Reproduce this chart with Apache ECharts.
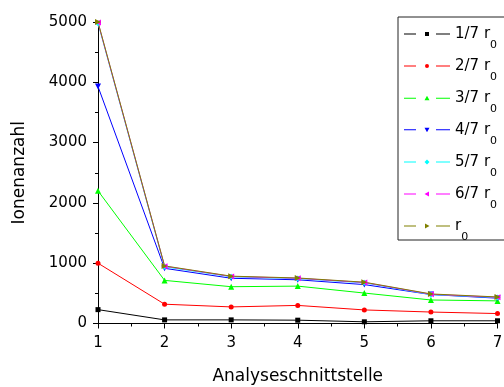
<!DOCTYPE html>
<html>
<head>
<meta charset="utf-8">
<script src="https://cdn.jsdelivr.net/npm/echarts@6/dist/echarts.min.js"></script>
<style>html,body{margin:0;padding:0;background:#fff}#c{width:504px;height:387px}</style>
</head>
<body>
<div id="c"></div>
<script>
const xValues = [1, 2, 3, 4, 5, 6, 7];
const seriesNames = ['1/7 r0', '2/7 r0', '3/7 r0', '4/7 r0', '5/7 r0', '6/7 r0', 'r0'];
const s1 = [230, 60, 60, 55, 28, 45, 45];
const s2 = [1000, 320, 275, 300, 225, 190, 165];
const s3 = [2200, 715, 610, 620, 505, 390, 375];
const s4 = [3930, 915, 750, 725, 645, 480, 420];
const s5 = [4980, 940, 775, 745, 675, 480, 430];
const s6 = [4990, 950, 780, 750, 680, 485, 435];
const s7 = [5000, 955, 785, 755, 685, 490, 440];
const yTicks = [0, 1000, 2000, 3000, 4000, 5000];

const allValues = [s1, s2, s3, s4, s5, s6, s7];
const colors = ['#000000', '#ff0000', '#00ff00', '#0000ff', '#00ffff', '#ff00ff', '#808000'];
const symbols = ['rect', 'circle', 'triangle', 'triangle', 'diamond', 'triangle', 'triangle'];
const rotates = [0, 0, 0, 180, 0, 90, -90];
const sizes = [5, 5, 6, 6, 6, 6, 6];

const L = 'M0 2.5H12V3.5H0Z M32 2.5H46V3.5H32Z ';
const markerPaths = [
  'M21 1H25V5H21Z',
  'M21 3A2 2 0 1 0 25 3A2 2 0 1 0 21 3Z',
  'M23 0.5L25.5 5H20.5Z',
  'M20.5 1H25.5L23 5.5Z',
  'M23 0.5L25.5 3L23 5.5L20.5 3Z',
  'M20.5 3L25 0.5V5.5Z',
  'M25.5 3L21 0.5V5.5Z'
];

const FONT = 'DejaVu Sans';
const series = allValues.map((vals, i) => ({
  name: seriesNames[i],
  type: 'line',
  data: xValues.map((x, j) => [x, vals[j]]),
  symbol: symbols[i],
  symbolRotate: rotates[i],
  symbolSize: sizes[i],
  color: colors[i],
  lineStyle: { width: 1, color: colors[i] },
  itemStyle: { color: colors[i] },
  animation: false
}));

const chart = echarts.init(document.getElementById('c'), null, { renderer: 'canvas' });
chart.setOption({
  animation: false,
  grid: { left: 98, right: 6.5, top: 22, bottom: 63.5, containLabel: false, outerBoundsMode: 'none' },
  xAxis: {
    type: 'value', min: 1, max: 7, interval: 1,
    name: 'Analyseschnittstelle', nameLocation: 'middle', nameGap: 45,
    nameTextStyle: { fontFamily: FONT, fontSize: 17, color: '#000' },
    axisLine: { show: true, onZero: false, lineStyle: { color: '#000', width: 1 } },
    axisTick: { show: true, inside: false, length: 5, lineStyle: { color: '#000' } },
    minorTick: { show: true, splitNumber: 2, length: 3, lineStyle: { color: '#000' } },
    splitLine: { show: false },
    axisLabel: { fontFamily: FONT, fontSize: 15, color: '#000', margin: 12 }
  },
  yAxis: {
    type: 'value', min: yTicks[0], max: yTicks[yTicks.length - 1], interval: 1000,
    name: 'Ionenanzahl', nameLocation: 'middle', nameGap: 70, nameRotate: 90,
    nameTextStyle: { fontFamily: FONT, fontSize: 17, color: '#000' },
    axisLine: { show: true, lineStyle: { color: '#000', width: 1 } },
    axisTick: { show: true, inside: false, length: 5, lineStyle: { color: '#000' } },
    minorTick: { show: true, splitNumber: 2, length: 3, lineStyle: { color: '#000' } },
    splitLine: { show: false },
    axisLabel: { fontFamily: FONT, fontSize: 15, color: '#000', margin: 11,
      formatter: function (v) { return String(v); } }
  },
  legend: {
    orient: 'vertical',
    left: 398, top: 17,
    padding: [9.5, 30, -2.5, 6],
    itemGap: 8,
    itemWidth: 46, itemHeight: 6,
    borderColor: '#222', borderWidth: 1,
    data: seriesNames.map((n, i) => ({
      name: n,
      icon: 'path://' + L + markerPaths[i],
      itemStyle: { color: colors[i], borderWidth: 0 }
    })),
    formatter: function (name) {
      return '{a|' + name.slice(0, -1) + '}{s|0}';
    },
    textStyle: {
      fontFamily: FONT, fontSize: 15, color: '#000',
      rich: {
        a: { fontFamily: FONT, fontSize: 15, color: '#000' },
        s: { fontFamily: FONT, fontSize: 11, color: '#000', padding: [22, 0, 0, 0] }
      }
    }
  },
  series: series
});
</script>
</body>
</html>
